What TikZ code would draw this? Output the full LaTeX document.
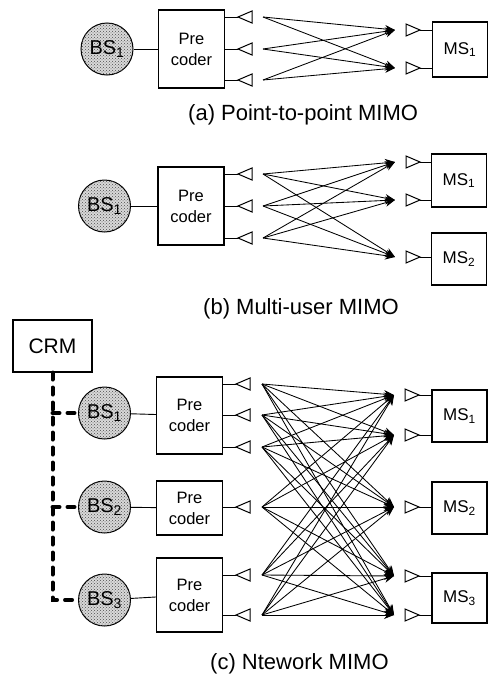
\documentclass[tikz,border=0pt]{standalone}
\usepackage{fontspec}
\setmainfont{Liberation Sans}
\usetikzlibrary{arrows.meta,patterns}
\begin{document}
\begin{tikzpicture}[x=1pt,y=-1pt,
  bs/.style={circle,draw,line width=1pt,fill=gray!30,postaction={pattern=crosshatch dots,pattern color=gray!60!black},minimum size=52pt,inner sep=0pt,font=\fontsize{20}{22}\selectfont},
  pc/.style={draw,line width=1.1pt,minimum width=66pt,inner sep=0pt,align=center,font=\fontsize{16.5}{21}\selectfont},
  ms/.style={draw,line width=1.1pt,minimum width=55pt,inner sep=0pt,font=\fontsize{17}{20}\selectfont},
  crmbox/.style={draw,line width=1.1pt,minimum width=79pt,minimum height=52pt,inner sep=0pt,font=\fontsize{21}{24}\selectfont},
  wire/.style={line width=0.9pt},
  ray/.style={line width=0.85pt,-{Stealth[length=10pt,width=8pt]}},
  ant/.style={draw,line width=1pt,fill=white,line join=miter},
  crm/.style={line width=4pt,dash pattern=on 7pt off 8pt,line cap=round},
  capt/.style={anchor=base west,inner sep=0pt,font=\fontsize{22}{24}\selectfont}]
\useasboundingbox (0,0) rectangle (490,675);

% ---------------- (a) ----------------
\node[bs] (a-bs) at (107,49) {BS\textsubscript{1}};
\node[pc,minimum height=78pt] (a-pc) at (191.5,49) {Pre\\coder};
\node[ms,minimum height=55pt] (a-ms) at (460,49.5) {MS\textsubscript{1}};
\draw[wire] (a-bs) -- (a-pc);
\foreach \i/\y in {1/17,2/49,3/80} {
  \coordinate (a-t\i) at (238,\y);
  \coordinate (a-s\i) at (263,\y);
  \draw[wire] (a-pc.east |- a-t\i) -- (a-t\i);
  \draw[ant] (a-t\i) -- ++(14,-6) -- ++(0,12) -- cycle;
}
\foreach \i/\y in {1/30,2/68} {
  \coordinate (a-r\i) at (395,\y);
  \coordinate (a-q\i) at (406,\y);
  \draw[ant] (a-q\i) ++(0,-6) -- ++(14,6) -- ++(-14,6) -- cycle;
  \draw[wire] (a-q\i) ++(14,0) -- (a-ms.west |- a-q\i);
}
\foreach \i in {1,2,3} \foreach \j in {1,2} \draw[ray] (a-s\i) -- (a-r\j);
\node[capt] (a-cap) at (188,120) {(a) Point-to-point MIMO};

% ---------------- (b) ----------------
\node[bs] (b-bs) at (104.5,206) {BS\textsubscript{1}};
\node[pc,minimum height=78pt] (b-pc) at (191,206) {Pre\\coder};
\node[ms,minimum height=53pt] (b-ms1) at (459,180.5) {MS\textsubscript{1}};
\node[ms,minimum height=52pt] (b-ms2) at (459,259) {MS\textsubscript{2}};
\draw[wire] (b-bs) -- (b-pc);
\foreach \i/\y in {1/174,2/206,3/238} {
  \coordinate (b-t\i) at (238,\y);
  \coordinate (b-s\i) at (263,\y);
  \draw[wire] (b-pc.east |- b-t\i) -- (b-t\i);
  \draw[ant] (b-t\i) -- ++(14,-6) -- ++(0,12) -- cycle;
}
\foreach \i/\y/\m in {1/162/1,2/200/1,3/257/2} {
  \coordinate (b-r\i) at (395,\y);
  \coordinate (b-q\i) at (406,\y);
  \draw[ant] (b-q\i) ++(0,-6) -- ++(14,6) -- ++(-14,6) -- cycle;
  \draw[wire] (b-q\i) ++(14,0) -- (b-ms\m.west |- b-q\i);
}
\foreach \i in {1,2,3} \foreach \j in {1,2,3} \draw[ray] (b-s\i) -- (b-r\j);
\node[capt] (b-cap) at (203,314) {(b) Multi-user MIMO};

% ---------------- (c) ----------------
\node[crmbox] (crm) at (52.5,346) {CRM};
\node[bs] (c-bs1) at (104.5,413) {BS\textsubscript{1}};
\node[bs] (c-bs2) at (104.5,507) {BS\textsubscript{2}};
\node[bs] (c-bs3) at (104.5,600) {BS\textsubscript{3}};
\node[pc,minimum height=77pt] (c-pc1) at (189.5,415.5) {Pre\\coder};
\node[pc,minimum height=54pt] (c-pc2) at (189.5,508) {Pre\\coder};
\node[pc,minimum height=74pt] (c-pc3) at (189.5,595) {Pre\\coder};
\node[ms,minimum height=52pt] (c-ms1) at (459.5,416) {MS\textsubscript{1}};
\node[ms,minimum height=52pt] (c-ms2) at (459.5,508) {MS\textsubscript{2}};
\node[ms,minimum height=50pt] (c-ms3) at (459.5,598) {MS\textsubscript{3}};
\foreach \k in {1,2,3} \draw[wire] (c-bs\k) -- (c-pc\k);
\draw[crm] (crm.south) |- (c-bs3.west);
\draw[crm] (crm.south |- c-bs1.west) -- (c-bs1.west);
\draw[crm] (crm.south |- c-bs2.west) -- (c-bs2.west);
\foreach \i/\y/\p in {1/384/1,2/415/1,3/447/1,4/507/2,5/575/3,6/615/3} {
  \coordinate (c-t\i) at (236,\y);
  \coordinate (c-s\i) at (262,\y);
  \draw[wire] (c-pc\p.east |- c-t\i) -- (c-t\i);
  \draw[ant] (c-t\i) -- ++(14,-6) -- ++(0,12) -- cycle;
}
\foreach \i/\y/\m in {1/395/1,2/435/1,3/507/2,4/576/3,5/615/3} {
  \coordinate (c-r\i) at (394,\y);
  \coordinate (c-q\i) at (405,\y);
  \draw[ant] (c-q\i) ++(0,-6) -- ++(14,6) -- ++(-14,6) -- cycle;
  \draw[wire] (c-q\i) ++(14,0) -- (c-ms\m.west |- c-q\i);
}
\foreach \i in {1,...,6} \foreach \j in {1,...,5} \draw[ray] (c-s\i) -- (c-r\j);
\node[capt] (c-cap) at (210,669) {(c) Ntework MIMO};
\end{tikzpicture}
\end{document}
